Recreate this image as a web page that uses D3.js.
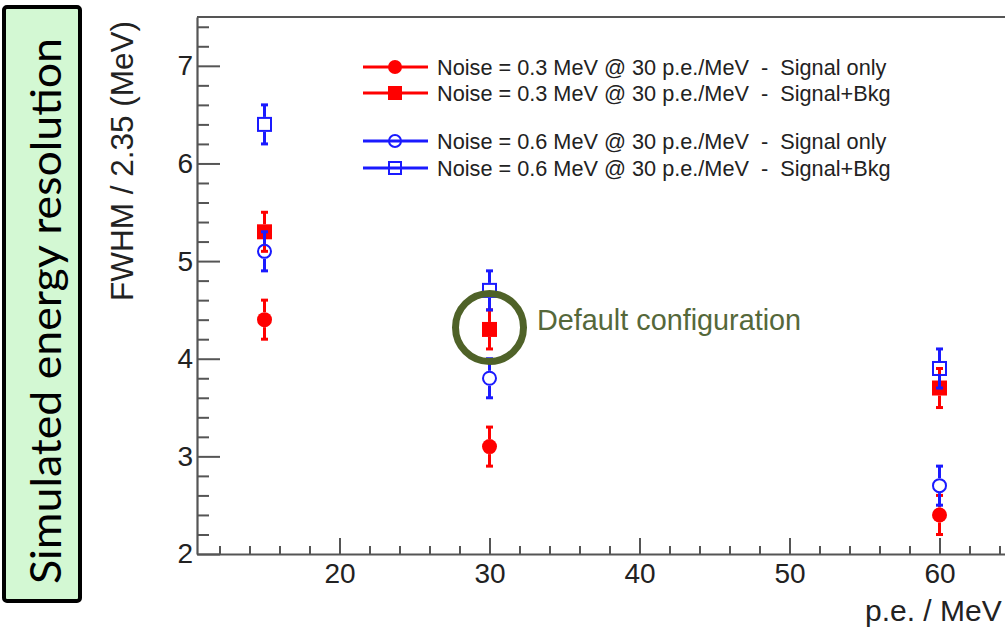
<!DOCTYPE html>
<html><head><meta charset="utf-8">
<script src="https://cdn.jsdelivr.net/npm/d3@7/dist/d3.min.js"></script>
<style>
body{margin:0;background:#fff;overflow:hidden}
svg text{font-family:"Liberation Sans",Arial,Helvetica,sans-serif}
</style>
</head><body>
<svg id="chart" width="1005" height="631"></svg>
<script>
// ---- data ----
const peValues = [15, 30, 60];
const seriesLabels = [
  "Noise = 0.3 MeV @ 30 p.e./MeV  -  Signal only",
  "Noise = 0.3 MeV @ 30 p.e./MeV  -  Signal+Bkg",
  "Noise = 0.6 MeV @ 30 p.e./MeV  -  Signal only",
  "Noise = 0.6 MeV @ 30 p.e./MeV  -  Signal+Bkg"
];
const noise03SignalOnly = [4.4, 3.1, 2.4];
const noise03SignalBkg  = [5.3, 4.3, 3.7];
const noise06SignalOnly = [5.1, 3.8, 2.7];
const noise06SignalBkg  = [6.4, 4.7, 3.9];
const noise03SignalOnlyErr = [0.2, 0.2, 0.2];
const noise03SignalBkgErr  = [0.2, 0.2, 0.2];
const noise06SignalOnlyErr = [0.2, 0.2, 0.2];
const noise06SignalBkgErr  = [0.2, 0.2, 0.2];
const yTickValues = [2, 3, 4, 5, 6, 7];
const xTickValues = [20, 30, 40, 50, 60];
const yTitle = "FWHM / 2.35 (MeV)";
const xTitle = "p.e. / MeV";
const sideLabel = "Simulated energy resolution";
const annotation = "Default configuration";
const defaultPE = 30;
const defaultValue = 4.3;

// ---- setup ----
const svg = d3.select("#chart");
const x = d3.scaleLinear().domain([10.5, 64.5]).range([197, 1007]);
const y = d3.scaleLinear().domain([2, 7.5]).range([554, 17]);
const axisColor = "#555";
const RED = "#ff0000", BLUE = "#1a1aff", OLIVE = "#4f6228";

// side box
svg.append("rect").attr("x", 4).attr("y", 7).attr("width", 76).attr("height", 594)
  .attr("rx", 3).attr("fill", "#d3f8d3").attr("stroke", "#000").attr("stroke-width", 4);
svg.append("text").attr("transform", "translate(61,311) rotate(-90)")
  .attr("text-anchor", "middle").style("font-family", "Lato, 'Open Sans', sans-serif")
  .attr("font-size", 42).attr("fill", "#000")
  .attr("textLength", 546).attr("lengthAdjust", "spacingAndGlyphs")
  .text(sideLabel);

// frame top line
svg.append("line").attr("x1", x.range()[0]).attr("x2", x.range()[1])
  .attr("y1", y.range()[1]).attr("y2", y.range()[1])
  .attr("stroke", axisColor).attr("stroke-width", 2);

// minor ticks
const yMinor = d3.range(10, 38).map(i => +(i * 0.2).toFixed(1)).filter(v => Math.abs(v - Math.round(v)) > 1e-6);
const xMinor = d3.range(12, 65, 2).filter(v => v % 10 !== 0);

const yMinorG = svg.append("g").attr("transform", `translate(${x.range()[0]},0)`)
  .call(d3.axisLeft(y).tickValues(yMinor).tickSizeInner(-12).tickSizeOuter(0).tickFormat(""));
yMinorG.select(".domain").remove();
const xMinorG = svg.append("g").attr("transform", `translate(0,${y.range()[0]})`)
  .call(d3.axisBottom(x).tickValues(xMinor).tickSizeInner(-8).tickSizeOuter(0).tickFormat(""));
xMinorG.select(".domain").remove();

// major axes
const yAxisG = svg.append("g").attr("transform", `translate(${x.range()[0]},0)`)
  .call(d3.axisLeft(y).tickValues(yTickValues).tickSizeInner(-23).tickSizeOuter(0).tickPadding(4).tickFormat(d3.format("d")));
const xAxisG = svg.append("g").attr("transform", `translate(0,${y.range()[0]})`)
  .call(d3.axisBottom(x).tickValues(xTickValues).tickSizeInner(-16).tickSizeOuter(0).tickPadding(9).tickFormat(d3.format("d")));
[yAxisG, xAxisG, yMinorG, xMinorG].forEach(g => {
  g.selectAll("line").attr("stroke", axisColor).attr("stroke-width", 2);
  g.selectAll(".domain").attr("stroke", axisColor).attr("stroke-width", 2.2);
  g.selectAll("text").attr("font-size", 28).attr("fill", "#222")
   .style("font-family", "'Liberation Sans', Arial, sans-serif");
});

// axis titles
svg.append("text").attr("transform", "translate(133,21) rotate(-90)")
  .attr("text-anchor", "end").attr("font-size", 31.5).attr("fill", "#222").text(yTitle);
svg.append("text").attr("x", 865).attr("y", 621)
  .attr("font-size", 30).attr("fill", "#222").text(xTitle);

// ---- series ----
const series = [
  {vals: noise03SignalOnly, errs: noise03SignalOnlyErr, color: RED, shape: "circle", filled: true},
  {vals: noise03SignalBkg, errs: noise03SignalBkgErr, color: RED, shape: "square", filled: true},
  {vals: noise06SignalOnly, errs: noise06SignalOnlyErr, color: BLUE, shape: "circle", filled: false},
  {vals: noise06SignalBkg, errs: noise06SignalBkgErr, color: BLUE, shape: "square", filled: false}
];
const half = 7.5;

function drawMarker(g, cx, cy, s, h) {
  if (s.shape === "circle") {
    g.append("circle").attr("cx", cx).attr("cy", cy).attr("r", s.filled ? h : h - 1)
      .attr("fill", s.filled ? s.color : "none")
      .attr("stroke", s.color).attr("stroke-width", s.filled ? 0 : 2);
  } else {
    const hh = s.filled ? h : h - 1;
    g.append("rect").attr("x", cx - hh).attr("y", cy - hh).attr("width", 2 * hh).attr("height", 2 * hh)
      .attr("fill", s.filled ? s.color : "none")
      .attr("stroke", s.color).attr("stroke-width", s.filled ? 0 : 2);
  }
}

series.forEach(s => {
  const g = svg.append("g");
  peValues.forEach((pe, i) => {
    const cx = x(pe), cy = y(s.vals[i]);
    const yt = y(s.vals[i] + s.errs[i]), yb = y(s.vals[i] - s.errs[i]);
    g.append("line").attr("x1", cx).attr("x2", cx).attr("y1", yt).attr("y2", cy - half)
      .attr("stroke", s.color).attr("stroke-width", 3);
    g.append("line").attr("x1", cx).attr("x2", cx).attr("y1", cy + half).attr("y2", yb)
      .attr("stroke", s.color).attr("stroke-width", 3);
    [yt, yb].forEach(yy => g.append("line").attr("x1", cx - 3.5).attr("x2", cx + 3.5)
      .attr("y1", yy).attr("y2", yy).attr("stroke", s.color).attr("stroke-width", 3));
    drawMarker(g, cx, cy, s, half);
  });
});

// ---- legend ----
const legendRows = [67, 93, 141, 168];
series.forEach((s, i) => {
  const g = svg.append("g");
  const ly = legendRows[i];
  g.append("line").attr("x1", 363).attr("x2", 428).attr("y1", ly).attr("y2", ly)
    .attr("stroke", s.color).attr("stroke-width", 3);
  drawMarker(g, 395, ly, s, 7);
  g.append("text").attr("x", 437).attr("y", ly).attr("dy", "0.35em")
    .attr("font-size", 21.7).attr("fill", "#222").style("white-space", "pre")
    .text(seriesLabels[i]);
});

// ---- annotation ----
svg.append("circle").attr("cx", x(defaultPE)).attr("cy", y(defaultValue) - 2).attr("r", 34)
  .attr("fill", "none").attr("stroke", OLIVE).attr("stroke-width", 7);
svg.append("text").attr("x", 537).attr("y", 330).attr("font-size", 28.8)
  .attr("fill", "#55683a").text(annotation);
</script>
</body></html>
